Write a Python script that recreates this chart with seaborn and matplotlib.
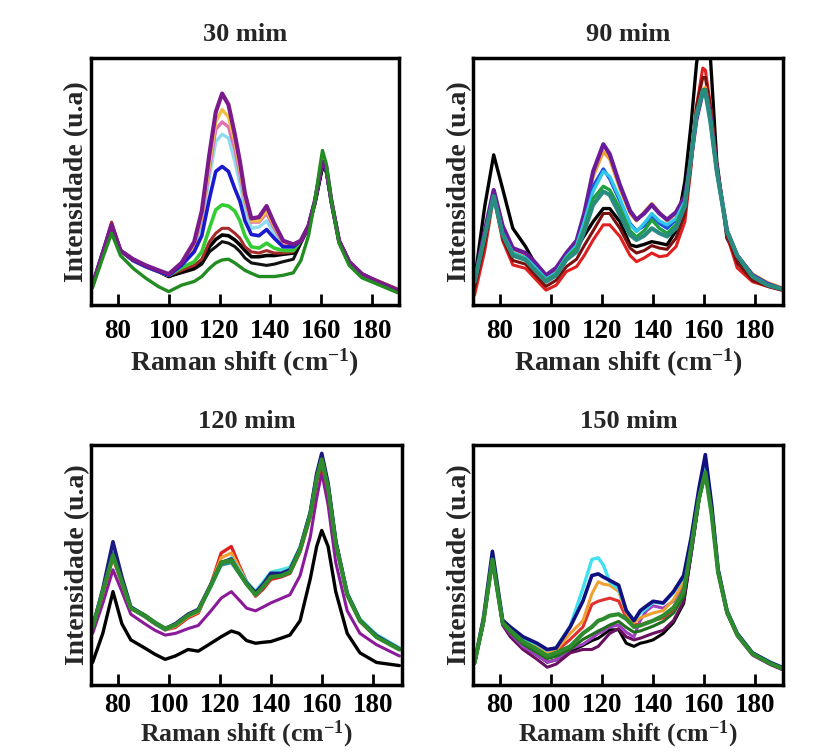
import numpy as np
import pandas as pd
import matplotlib
matplotlib.use("Agg")
import matplotlib.pyplot as plt
import seaborn as sns

# ---------------- data (y normalised 0-100) -------------
titles = ["30 mim", "90 mim", "120 mim", "150 mim"]
xlabels = [r"Raman shift (cm$^{-1}$)", r"Raman shift (cm$^{-1}$)",
           r"Raman shift (cm$^{-1}$)", r"Ramam shift (cm$^{-1}$)"]
ylabel = "Intensidade (u.a)"
xticks = [80, 100, 120, 140, 160, 180]

# ---- panel 1 : 30 mim
x1 = [70, 74, 77.5, 81, 86, 91, 96, 100, 105, 110, 113, 116, 118.5, 121, 123.5, 126, 128, 130,
      132.5, 135.5, 138.5, 141.5, 145, 149, 152, 155, 157.5, 159.5, 160.5, 162, 164, 167, 171,
      176, 183, 190]
p1_black2 = [8, 21, 32, 22, 18, 15.5, 13.5, 11.5, 13, 14.5, 16.5, 21.5, 23.5, 25.6, 25, 23.6, 21.6, 19,
             17, 16.5, 16, 16.5, 17.5, 18.5, 25, 31, 41, 51, 56, 54, 41, 25.5, 17, 12, 9, 6]
p1_black1 = [8, 21, 32, 22, 18, 15.5, 13.5, 11.5, 13.5, 15, 18, 23.5, 26.5, 28.3, 28, 26.3, 24.3, 22,
             19.5, 19.5, 20, 20, 20.5, 21, 26, 32, 41, 51, 56, 54, 42, 26, 17.5, 12.5, 9, 6]
p1_red = [8, 21, 33.5, 22, 18, 15.5, 13.5, 12, 14, 16, 18.5, 25.5, 29, 31, 31, 29, 27, 23.5,
          21.5, 21, 22, 21, 21, 21.5, 26, 32, 42, 53, 58, 55, 42, 26, 17.5, 12.5, 9.5, 6.5]
p1_lime = [8, 21, 32, 22, 18, 15.5, 13.5, 12, 15, 17.5, 21.5, 31, 38.5, 40.5, 40, 38, 34, 28,
           23.5, 23, 25, 23, 22, 22, 26, 32, 42, 53, 58, 55, 42, 26, 17.5, 12.5, 9, 6]
p1_cyan = [8, 21, 32, 22, 18, 15.5, 13.5, 12, 16, 23, 33, 52, 66, 69, 67.5, 58, 49, 39,
           31, 31.5, 34, 29, 24.5, 24, 26, 32, 42, 53, 58, 55, 42, 26, 17.5, 12.5, 9, 6]
p1_pink = [8, 21, 32, 22, 18, 15.5, 13.5, 12, 16.5, 24, 35, 55, 71, 74, 72, 63, 53, 42,
           33.5, 33.5, 37, 31, 25, 24, 26, 32, 42, 53, 58, 55, 42, 26, 17.5, 12.5, 9, 6]
p1_yellow = [8, 21, 32, 22, 18, 15.5, 13.5, 12, 16.5, 24.5, 36, 57, 74, 79, 76, 66, 55, 43,
             34, 34, 38, 32, 25.5, 24.5, 26, 32, 42, 53, 58, 55, 42, 26, 17.5, 12.5, 9, 6]
p1_blue = [8, 21, 32, 22, 18, 15.5, 13.5, 12, 16, 21.5, 28, 43, 54, 56, 54, 47, 42, 34,
           28.5, 28, 30.5, 27, 23.5, 23.5, 26, 32, 42, 53, 58, 55, 42, 26, 17.5, 12.5, 9, 6]
p1_purple = [8, 21, 32.5, 22, 18.5, 16, 14, 12.5, 17, 25.5, 38, 61, 78, 85.5, 81, 69, 58, 45,
             35, 35.5, 40, 33, 26, 24.5, 26, 32, 42, 53, 58, 56, 42, 26, 17.5, 12.5, 9, 6]
p1_dkgreen = [7, 19, 29, 20, 14.8, 10.8, 7.4, 5.4, 8, 9.5, 11.5, 14.8, 17, 18.2, 18.5, 17, 15.5, 14,
              12.8, 11.5, 11.5, 11.5, 12, 13, 18, 28, 42, 56, 62.5, 57, 42, 25, 16, 11, 8, 5]

# ---- panel 2 : 90 mim
x2 = [70, 74, 77.5, 81, 85, 90, 93, 98, 102, 106, 110, 113, 116.5, 120.5, 123, 127, 131, 133.5,
      136.5, 139.5, 142.5, 145.5, 149, 152.5, 155, 157, 159.5, 160.5, 162.5, 165, 169, 173, 179,
      185, 190.5]
p2_black = [10, 40, 60.7, 47, 31, 23.6, 18, 12, 14, 19.5, 23, 28, 33.7, 39, 39, 33.7, 24.3, 23.6,
            24.5, 25.6, 25, 24.3, 30, 50, 74, 97, 118, 120, 100, 58, 27, 19, 11, 8, 6.5]
p2_red = [4, 22, 44, 26, 16.2, 14.8, 11.5, 6, 8, 13.5, 15.5, 20, 26.3, 32.4, 32.4, 27.7, 20, 17.5,
          19, 21, 19.5, 20, 23.6, 33.7, 56.7, 80, 95.8, 95, 81, 57, 28, 15, 9.4, 7.5, 6]
p2_darkred = [7, 25, 45, 27, 18, 16.5, 13, 7.5, 10, 15.5, 18.5, 24, 30, 37, 37, 31, 23, 21,
              22, 24, 23, 22.5, 27, 37, 58, 80, 92, 92, 80, 56, 28.5, 17, 10, 7.5, 6]
p2_orange = [10, 29, 45, 31, 22.5, 20.5, 17.5, 11.5, 14.5, 20.5, 25.5, 36, 52, 62, 59, 47, 37, 34,
             37.5, 41, 37.5, 34, 37, 43.5, 59, 75, 87, 88, 77, 55, 30, 20, 12.5, 9, 7]
p2_purple = [10, 30, 46.5, 32, 23, 21, 18, 12, 15, 21, 26, 37, 54, 65, 61, 48.5, 38, 34.5,
             37, 40.5, 37, 34.5, 37.5, 44, 60, 75, 86, 87, 76, 55, 30, 20, 12, 8.5, 6.5]
p2_blue = [9.5, 28.5, 44, 29, 21, 19, 16, 10.5, 13, 19.5, 24, 33, 48, 55, 51, 42, 33, 30,
           32, 36, 33, 31, 34.5, 42, 60, 76, 87, 87, 75, 54.5, 30, 20, 12, 8.5, 6.5]
p2_cyan = [9.5, 28, 44, 29, 21, 19, 16, 10.5, 13, 19.5, 24, 33.5, 46, 54, 52, 43, 32.5, 29.7,
           33, 37, 34, 32.4, 35, 42, 60, 76, 86.5, 86.5, 75, 54, 30, 20, 11.5, 8, 6.5]
p2_green = [9.5, 28, 44, 28.5, 20.5, 18.5, 15, 10, 12.5, 19, 23, 31, 43, 48, 46.5, 39, 30, 27.5,
            30, 34.4, 31, 29, 32.5, 41, 60.5, 77, 87, 87, 75, 54, 30, 20, 11.5, 8, 6.5]
p2_teal = [9.4, 28, 44, 28.3, 20, 18.2, 14.8, 9.4, 12, 18.2, 21.5, 29.7, 40.5, 45.9, 44.5, 36.4, 28.3, 26.3,
           28, 31, 29, 27.7, 31, 40, 60.7, 77, 86.4, 86, 74, 54, 29.7, 20, 11.5, 8, 6.5]

# ---- panel 3 : 120 mim
x3 = [70, 74, 78, 81.5, 85, 90.5, 94.5, 98.5, 102.5, 107.5, 111.5, 116.5, 120.5, 124.5, 127.5,
      130.5, 134, 137, 140, 144, 147.5, 151.5, 155.5, 158, 160, 162.5, 165.5, 170, 175, 181.5, 190.5]
p3_black = [9.4, 21.5, 38.9, 25.5, 18.8, 15.4, 12.8, 10.7, 12.1, 14.8, 14.1, 17.4, 20.1, 22.5, 21.5,
            18.5, 17.4, 17.8, 18.1, 19.5, 20.8, 26.8, 44.3, 57.7, 64.4, 57.7, 38.9, 21.5, 13.4, 9.4, 8.1]
p3_purple = [21.5, 34, 48, 39, 29.5, 25.5, 22.8, 20.8, 21.5, 23.5, 24.8, 30.9, 36.2, 38.9, 35.5,
             32, 30.9, 32.5, 34.2, 36, 37.6, 45.6, 61.7, 77.9, 88.6, 75, 51, 30.9, 21.5, 16.8, 12.1]
p3_red = [24, 38, 53, 42.5, 32, 28.5, 25.5, 23, 24, 28, 30, 42, 55, 57.7, 50,
          43, 37, 40, 44, 45, 46.5, 55.5, 70, 85, 92, 81, 58.5, 37.5, 26.5, 20, 14.8]
p3_orange = [24, 38.5, 53.5, 42.5, 32, 28.5, 25.5, 23, 24.5, 28.5, 30.5, 42, 53, 55, 49,
             42.5, 37.5, 41, 45, 46, 47.5, 56, 71, 87, 95, 83, 59.5, 38, 27, 20.5, 15]
p3_cyan = [24.5, 39, 55, 43.5, 32.5, 29, 26, 23.5, 25, 29, 31, 41, 50, 53, 48,
           43, 39, 43, 47, 48, 49, 57.5, 72, 87, 94.5, 83, 60, 38.5, 27.5, 21, 15.5]
p3_teal = [24, 39, 55, 43, 32, 28.5, 25.5, 23, 25, 29, 31, 41.5, 50, 51, 46.5,
           42, 38, 41.5, 45.5, 46, 47.5, 56.5, 71.5, 87, 95.5, 83, 59.5, 38, 27, 20, 15]
p3_navy = [24, 40, 59.7, 45, 32.5, 29, 26, 23.5, 25.5, 29.5, 31.5, 42, 51, 52.5, 47,
           42.5, 38.5, 42, 46.5, 46.5, 48, 57, 72, 88, 96.5, 84, 60, 38, 27, 20.5, 15]
p3_green = [24, 39, 54, 43, 32, 29, 26, 23.5, 25, 29, 31, 41.5, 51, 52, 47,
            42, 37.6, 41, 45, 45.5, 47, 56.4, 71, 86, 94, 82, 59, 37.6, 26.8, 20, 14.8]

# ---- panel 4 : 150 mim
x4 = [70, 73.5, 77, 81, 84, 89, 94.5, 98.5, 102, 107.5, 112.5, 116, 118.5, 120.5, 123, 126.5,
      129.5, 132.5, 135, 137.5, 140, 144, 148, 152, 155, 158, 160.5, 163, 165.5, 169, 173, 179,
      186, 190.5]
p4_black = [9, 26, 52, 25.5, 21, 16, 12.5, 9.5, 10.5, 14, 16.5, 18.5, 19.5, 21, 23, 23,
            17.4, 16.1, 17.4, 18, 18.8, 21.5, 26, 34, 55, 77, 90, 72, 47, 30, 21, 13, 9, 7]
p4_dpurple = [9, 26, 53, 25, 20.1, 14.8, 10.7, 7.4, 8.7, 13.4, 14.8, 14.8, 16.1, 18.5, 21.5, 23.5,
              20.1, 18.8, 19.5, 20.5, 21.5, 22.8, 26.8, 34.9, 55, 77, 91.3, 72, 47, 30, 20.5, 12.5, 8.5, 6.5]
p4_magenta = [9, 26.5, 53, 25.5, 21.5, 16, 12.5, 9.5, 10.5, 15, 17, 19.5, 21.5, 22.5, 24.2, 25,
              22, 20, 27, 31, 33, 32, 35, 42, 59, 79, 93, 73, 47.5, 30.5, 21, 13, 9, 7]
p4_dkgreen = [9, 26, 52, 25.5, 22, 17, 13.5, 11, 12, 15, 19, 21, 22.5, 23.5, 25, 26.5,
              24, 22, 22.5, 23.5, 24.5, 26.5, 30, 37, 57, 77, 88, 71, 47, 30, 21, 13, 9, 7]
p4_red = [9.4, 27, 53, 26.5, 23, 18.5, 16, 13, 14, 19, 24.2, 33.6, 34.9, 35.5, 36.2, 35,
          28, 25.5, 25, 26, 26.8, 28, 31.5, 40, 59, 79, 92, 73, 47.5, 30.5, 21, 13, 9, 7]
p4_orange = [9.4, 27, 53, 26.5, 23, 19, 16.5, 13.5, 14.5, 21.5, 26.8, 38, 43, 42, 41.6, 39,
             30, 26, 28, 29, 30, 31, 35.5, 43, 60, 80, 93, 73, 47.5, 30.5, 21, 13, 9, 7]
p4_cyan = [9.4, 27, 53, 27, 23.5, 19.5, 17, 14.5, 15.5, 24.5, 40.3, 52.3, 53, 50, 43, 40,
           31, 27, 30, 32, 34.5, 34, 38.5, 45, 61, 81, 94, 74, 48, 31, 21.5, 13.4, 9.4, 7.4]
p4_navy = [9.4, 28, 55.7, 27, 24.2, 20.1, 17.4, 14.8, 15.4, 24.2, 35, 45.6, 46.3, 45, 43.6, 41.6,
           31, 26.8, 31, 33, 34.9, 34.2, 38.9, 45.6, 61.7, 81.9, 96, 75, 48.3, 30.9, 21.5, 13.4, 9.4, 7.4]
p4_green = [9.4, 26.8, 52.3, 26, 22.8, 18.1, 14.8, 12.1, 13.4, 16.1, 21.5, 24.2, 26.8, 27.5, 28.9, 29.5,
            27.5, 24.2, 24.8, 25.8, 26.8, 28.9, 32.2, 38.9, 57.7, 77.9, 88.6, 71, 47, 30.5, 21, 13, 9, 7]

# ---------------- styling (draw order, colours, widths) ----------------
panels = [
    (x1, [("black2", p1_black2, "#111111", 2.2), ("black1", p1_black1, "#000000", 2.6),
          ("red", p1_red, "#a52a2a", 2.2), ("lime", p1_lime, "#33cc33", 2.6),
          ("cyan", p1_cyan, "#8fdcf0", 2.4), ("pink", p1_pink, "#e070b0", 2.4),
          ("yellow", p1_yellow, "#f0c040", 2.4), ("blue", p1_blue, "#1a1acc", 2.6),
          ("purple", p1_purple, "#7b1a8c", 3.0), ("dkgreen", p1_dkgreen, "#228b22", 2.4)]),
    (x2, [("black", p2_black, "#000000", 2.4), ("red", p2_red, "#e02020", 2.2),
          ("darkred", p2_darkred, "#7a1010", 2.2), ("orange", p2_orange, "#f0a030", 2.4),
          ("purple", p2_purple, "#6a1b9a", 3.0), ("blue", p2_blue, "#1e50e0", 2.4),
          ("cyan", p2_cyan, "#30c8e8", 2.4), ("green", p2_green, "#20a040", 2.4),
          ("teal", p2_teal, "#2a8c80", 3.0)]),
    (x3, [("black", p3_black, "#000000", 2.4), ("purple", p3_purple, "#8b1a9a", 2.2),
          ("red", p3_red, "#e02020", 2.4), ("orange", p3_orange, "#f0a030", 2.4),
          ("cyan", p3_cyan, "#50e0e0", 2.4), ("teal", p3_teal, "#2a8c80", 2.4),
          ("navy", p3_navy, "#1a1a80", 2.6), ("green", p3_green, "#2e8b2e", 3.0)]),
    (x4, [("black", p4_black, "#000000", 2.2), ("dpurple", p4_dpurple, "#6a1060", 2.2),
          ("magenta", p4_magenta, "#a040c0", 2.2), ("dkgreen", p4_dkgreen, "#1f6f1f", 2.2),
          ("red", p4_red, "#e03030", 2.2), ("orange", p4_orange, "#f0a030", 2.2),
          ("cyan", p4_cyan, "#40e0f0", 2.4), ("navy", p4_navy, "#101080", 2.6),
          ("green", p4_green, "#2e8b2e", 3.0)]),
]
positions = [[0.1103, 0.5966, 0.3733, 0.3271], [0.5737, 0.5966, 0.3758, 0.3271],
             [0.1107, 0.0939, 0.3762, 0.3175], [0.5737, 0.0939, 0.3758, 0.3175]]
xlims = [(69.4, 190.6), (69.5, 191.1), (69.5, 191.4), (69.5, 191.1)]
tick_pads = [10, 10, 6, 6]
xlabel_pads = [2, 2, 0, 0]
xlabel_sizes = [20, 20, 18.5, 18.5]

sns.set_theme(style="white")
plt.rcParams["font.family"] = ["Liberation Serif", "DejaVu Serif"]
plt.rcParams["font.weight"] = "bold"
plt.rcParams["axes.labelweight"] = "bold"
plt.rcParams["axes.titleweight"] = "bold"
plt.rcParams["mathtext.fontset"] = "custom"
plt.rcParams["mathtext.rm"] = "Liberation Serif:bold"
plt.rcParams["mathtext.default"] = "rm"

fig = plt.figure(figsize=(8.25, 7.56), dpi=100)
fig.patch.set_facecolor("white")

for i, (xs, curves) in enumerate(panels):
    ax = fig.add_axes(positions[i])
    rows = []
    for name, ys, col, lw in curves:
        assert len(ys) == len(xs), (i, name, len(ys), len(xs))
        rows.append(pd.DataFrame({"x": xs, "y": ys, "curve": name}))
    df = pd.concat(rows, ignore_index=True)
    order = [c[0] for c in curves]
    pal = {c[0]: c[2] for c in curves}
    sizes = {c[0]: c[3] for c in curves}
    sns.lineplot(data=df, x="x", y="y", hue="curve", hue_order=order, palette=pal,
                 size="curve", size_order=order, sizes=sizes, estimator=None,
                 sort=False, legend=False, ax=ax)
    for ln in ax.get_lines():
        ln.set_solid_joinstyle("round")
        ln.set_solid_capstyle("round")
    ax.set_xlim(*xlims[i])
    ax.set_ylim(0, 100)
    ax.set_xticks(xticks)
    ax.set_yticks([])
    ax.tick_params(axis="x", direction="in", length=8, width=2, labelsize=19.5,
                   pad=tick_pads[i], bottom=True, colors="black")
    for lab in ax.get_xticklabels():
        lab.set_fontweight("bold")
    for s in ax.spines.values():
        s.set_visible(True)
        s.set_linewidth(2.5)
        s.set_color("black")
    ax.set_title(titles[i], fontsize=19, pad=12, fontweight="bold")
    ax.set_ylabel(ylabel, fontsize=20, labelpad=1, fontweight="bold")
    ax.set_xlabel(xlabels[i], fontsize=xlabel_sizes[i], labelpad=xlabel_pads[i],
                  fontweight="bold")
    ax.set_facecolor("white")

fig.savefig("out.png", dpi=100, facecolor="white")
